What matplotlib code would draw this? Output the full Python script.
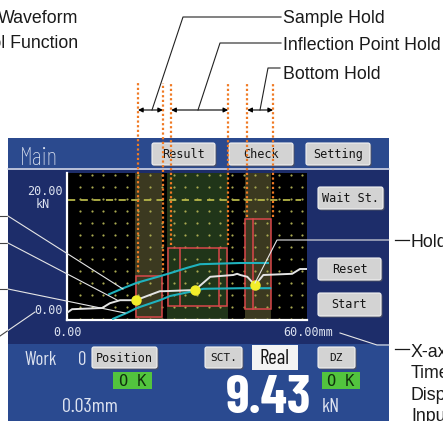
import numpy as np
import matplotlib.pyplot as plt
from matplotlib.patches import Rectangle, FancyBboxPatch

# Waveform data, x in mm, y in kN
wave_x = [0.0, 1.3, 9.0, 11.0, 13.6, 17.7, 20.5, 23.8, 24.9, 32.8, 36.7, 42.6, 43.6, 44.4, 46.2, 48.2, 50.3, 57.7, 59.7, 61.5]
wave_y = [-0.3, 0.3, 0.5, 1.3, 1.8, 1.8, 2.5, 3.3, 3.3, 3.5, 5.7, 6.0, 6.2, 6.0, 5.7, 4.3, 6.0, 6.2, 7.0, 7.0]
upper_x = [10.8, 14.4, 17.9, 23.8, 26.4, 30.8, 34.1, 44.4, 51.5]
upper_y = [2.8, 3.8, 4.7, 5.8, 6.3, 7.2, 7.8, 8.0, 8.0]
lower_x = [11.8, 15.4, 17.9, 23.8, 26.4, 32.3, 34.9, 45.1, 52.1]
lower_y = [-1.3, -0.3, 0.5, 1.8, 2.5, 3.3, 3.7, 3.8, 3.8]
hold_x = [17.7, 32.8, 48.2]
hold_y = [1.8, 3.5, 4.3]
threshold = 18.5

# Hold windows: sample, inflection point, bottom
band_start = [17.4, 25.6, 45.6]
band_end = [24.4, 41.3, 52.3]
band_colors = ['#3b3920', '#203519', '#3b3920']
box_x0 = [17.7, 25.9, 45.6]
box_x1 = [24.4, 41.0, 52.3]
box_y0 = [-1.0, 0.8, 0.3]
box_y1 = [5.8, 10.5, 15.3]
box_inner = [[], [29.0, 39.0], [47.7]]
marker_x = [18.2, 24.6, 26.7, 41.3, 46.2, 52.8]
marker_bottom = [6.5, 6.8, 11.0, 11.0, 15.7, 15.7]
marker_top = 38.0
arrow_y = 33.5

W, H = 443, 421
fig = plt.figure(figsize=(W / 100, H / 100), dpi=100)
fig.patch.set_facecolor('white')

ui = fig.add_axes([0, 0, 1, 1], zorder=0)
ui.set_xlim(0, W)
ui.set_ylim(H, 0)
ui.axis('off')

mono = 'DejaVu Sans Mono'
narrow = ['Barlow Condensed', 'DejaVu Sans']
lcd = '#dde3f0'


def rect(x0, y0, x1, y1, **kw):
    ui.add_patch(Rectangle((x0, y0), x1 - x0, y1 - y0, **kw))


def button(x0, y0, x1, y1, label, fs=8.5):
    ui.add_patch(FancyBboxPatch((x0 + 1.5, y0 + 1.5), x1 - x0, y1 - y0,
                                boxstyle='round,pad=0,rounding_size=2', fc='#4a4f63', lw=0))
    ui.add_patch(FancyBboxPatch((x0, y0), x1 - x0, y1 - y0,
                                boxstyle='round,pad=0,rounding_size=2', fc='#d3d3d3', ec='#f2f2f2', lw=0.8))
    ui.text((x0 + x1) / 2, (y0 + y1) / 2 + 0.5, label, ha='center', va='center',
            fontsize=fs, family=mono, color='#151515')


# panel
rect(8, 138, 389, 421, color='#1d2d6a', lw=0)
rect(8, 138, 389, 168, color='#2b4a8e', lw=0)
rect(8, 344, 389, 421, color='#2a4a90', lw=0)
ui.plot([8, 389], [169, 169], color='#d4dbec', lw=1.2)

ui.text(20, 165, 'Main', ha='left', va='baseline', fontsize=18, family=narrow,
        fontweight='light', color=lcd)
button(152, 143, 215, 165, 'Result')
button(229, 143, 293, 165, 'Check')
button(306, 143, 370, 165, 'Setting')
button(318, 187, 383, 209, 'Wait St.')
button(318, 258, 381, 280, 'Reset')
button(318, 293, 381, 316, 'Start')

# bottom status area
ui.text(25, 365, 'Work', ha='left', va='baseline', fontsize=13.5, family=narrow, color=lcd)
ui.text(78, 365, '0', ha='left', va='baseline', fontsize=13.5, family=narrow, color=lcd)
button(92, 347, 157, 368, 'Position')
button(205, 347, 242, 368, 'SCT.', fs=8)
button(318, 347, 355, 368, 'DZ', fs=8)
rect(252, 345, 298, 370, color='#f4f4f4', lw=0)
ui.text(275, 364, 'Real', ha='center', va='baseline', fontsize=15, family=narrow, color='#151515')
rect(113, 372, 152, 389, color='#52c43e', lw=0)
rect(322, 372, 360, 389, color='#52c43e', lw=0)
ui.text(132.5, 381, 'O K', ha='center', va='center', fontsize=11, family=mono, color='#10300c')
ui.text(341, 381, 'O K', ha='center', va='center', fontsize=11, family=mono, color='#10300c')
ui.text(62, 412, '0.03mm', ha='left', va='baseline', fontsize=14.5, family=narrow, color=lcd)
ui.text(268.5, 413, '9.43', ha='center', va='baseline', fontsize=39, family=narrow,
        fontweight='bold', color='white')
ui.text(322, 412, 'kN', ha='left', va='baseline', fontsize=14.5, family=narrow, color=lcd)

# waveform area
ax = fig.add_axes([67 / W, (H - 320) / H, 240 / W, 147 / H], zorder=1)
ax.set_facecolor('black')
ax.set_xlim(0, 61.5)
ax.set_ylim(-1.5, 23)
ax.set_xticks([])
ax.set_yticks([])
for side in ['top', 'right']:
    ax.spines[side].set_visible(False)
for side in ['left', 'bottom']:
    ax.spines[side].set_color('white')
    ax.spines[side].set_linewidth(1.6)

for x0, x1, c in zip(band_start, band_end, band_colors):
    ax.axvspan(x0, x1, color=c, lw=0, zorder=0)

gx, gy = np.meshgrid(np.arange(3.3, 61, 3.0), np.arange(-1.3, 23, 2.0))
ax.scatter(gx.ravel(), gy.ravel(), s=2.5, color='#a8a850', lw=0, zorder=1)
ax.plot([0.3, 60], [threshold, threshold], color='#b5b548', lw=1.3, ls=(0, (4, 3)), zorder=2)

for x0, x1, y0, y1, inner in zip(box_x0, box_x1, box_y0, box_y1, box_inner):
    ax.add_patch(Rectangle((x0, y0), x1 - x0, y1 - y0, fill=False, ec='#d9474a', lw=1.1, zorder=3))
    for xi in inner:
        ax.plot([xi, xi], [y0, y1], color='#d9474a', lw=1.1, zorder=3)

ax.plot(upper_x, upper_y, color='#1fb2be', lw=1.5, zorder=4)
ax.plot(lower_x, lower_y, color='#1fb2be', lw=1.5, zorder=4)
ax.plot(wave_x, wave_y, color='#e4e4e4', lw=1.4, zorder=5)
ax.plot(hold_x, hold_y, 'o', color='#f2ee2a', ms=6.5, zorder=6)

for xm, yb in zip(marker_x, marker_bottom):
    ax.plot([xm, xm], [yb, marker_top], color='#f07a24', lw=1.6, ls=(0, (1, 1.1)),
            clip_on=False, zorder=7)

for i in range(3):
    ax.annotate('', xy=(marker_x[2 * i + 1], arrow_y), xytext=(marker_x[2 * i], arrow_y),
                annotation_clip=False,
                arrowprops=dict(arrowstyle='<|-|>', color='black', lw=0.8,
                                mutation_scale=7, shrinkA=0, shrinkB=0))

ax.text(-1.0, 20, '20.00', ha='right', va='center', fontsize=8.5, family=mono, color=lcd, clip_on=False)
ax.text(-6.2, 17.7, 'kN', ha='center', va='center', fontsize=8.5, family=mono, color=lcd, clip_on=False)
ax.text(-1.0, 0, '0.00', ha='right', va='center', fontsize=8.5, family=mono, color=lcd, clip_on=False)
ax.text(0, -3.5, '0.00', ha='center', va='center', fontsize=8.5, family=mono, color=lcd, clip_on=False)
ax.text(55.4, -3.5, '60.00mm', ha='left', va='center', fontsize=8.5, family=mono, color=lcd, clip_on=False)

# callouts
ov = fig.add_axes([0, 0, 1, 1], zorder=2)
ov.set_xlim(0, W)
ov.set_ylim(H, 0)
ov.axis('off')
ov.patch.set_alpha(0)

label_font = dict(family=['Liberation Sans', 'DejaVu Sans'], fontsize=12.8, color='#1a1a1a')
white = '#e6e6e6'

ov.plot([152, 183, 281], [110, 17, 17], color='#222222', lw=0.8)
ov.plot([198, 220, 281], [110, 43, 43], color='#222222', lw=0.8)
ov.plot([260, 268, 280], [110, 68, 68], color='#222222', lw=0.8)
ov.text(283, 23, 'Sample Hold', ha='left', va='baseline', **label_font)
ov.text(283, 50, 'Inflection Point Hold', ha='left', va='baseline', **label_font)
ov.text(283, 79, 'Bottom Hold', ha='left', va='baseline', **label_font)
ov.text(78, 23, 'Waveform', ha='right', va='baseline', **label_font)
ov.text(78, 48, 'Control Function', ha='right', va='baseline', **label_font)

for y0, x1, y1 in [(216, 123, 289), (243, 117, 300), (289, 125, 313)]:
    ov.plot([0, 8], [y0, y0], color='#444444', lw=0.8)
    ov.plot([8, x1], [y0, y1], color=white, lw=0.8)
ov.plot([0, 8], [336, 330.5], color='#444444', lw=0.8)
ov.plot([8, 35], [330.5, 312], color=white, lw=0.8)

ov.plot([255, 277, 389], [283, 240, 240], color=white, lw=0.8)
ov.plot([395, 409], [240, 240], color='#1a1a1a', lw=0.9)
ov.text(411, 247, 'Hold', ha='left', va='baseline', **label_font)

ov.plot([340, 377, 389], [333, 345, 345], color=white, lw=0.8)
ov.plot([395, 409], [349, 349], color='#1a1a1a', lw=0.9)
for yb, s in zip([357, 378.5, 400, 421], ['X-axis', 'Time', 'Display', 'Input']):
    ov.text(411, yb, s, ha='left', va='baseline', **label_font)

fig.savefig('out.png', dpi=100)
